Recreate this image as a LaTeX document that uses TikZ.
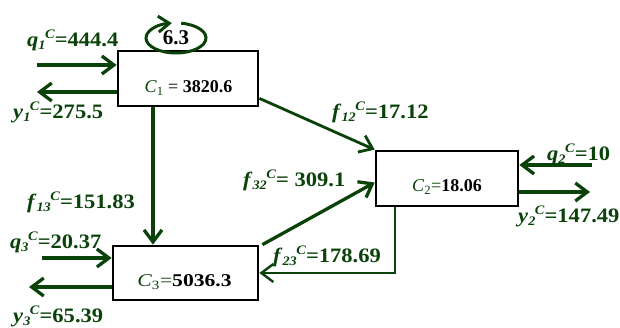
\documentclass[tikz,border=0pt]{standalone}
\usepackage{fontspec}
\setmainfont{Liberation Serif}
\newfontfamily\lblfont[FakeStretch=1.1]{Liberation Serif}
\newfontfamily\wideserif[FakeStretch=1.2]{Liberation Serif}
\usetikzlibrary{arrows.meta,calc}
\definecolor{dg}{RGB}{10,66,10}
\newcommand{\lbl}[3]{\textit{#1}\raisebox{-0.35ex}{\fontsize{13}{13}\selectfont\textit{#2}}\kern-0.5pt\raisebox{0.75ex}{\fontsize{13}{13}\selectfont\textit{C}}=#3}
\begin{document}
\begin{tikzpicture}[x=1pt,y=-1pt,
  box/.style={draw=black,line width=2.7pt,inner sep=0pt},
  boxtxt/.style={font=\fontsize{18}{20}\selectfont,inner sep=0pt},
  arr/.style={draw=dg,line width=3.3pt,-{Straight Barb[length=12pt,width=18pt]}},
  lab/.style={font=\lblfont\bfseries\fontsize{20.5}{22}\selectfont,text=dg,anchor=base west,inner sep=0pt}]
\useasboundingbox (0,0) rectangle (620,327);
% boxes
\node[box,minimum width=140pt,minimum height=55pt] (c1) at (188,78.5) {};
\node[box,minimum width=142pt,minimum height=55pt] (c2) at (447,178.5) {};
\node[box,minimum width=145pt,minimum height=54pt] (c3) at (185.5,273) {};
\node[boxtxt] (c1t) at (188.5,88) {\textcolor{dg}{\textit{C}\textsubscript{1}} = \textbf{3820.6}};
\node[boxtxt] (c2t) at (447,187) {\textcolor{dg}{\textit{C}\textsubscript{2}=}\textbf{18.06}};
\node[boxtxt,font=\wideserif\fontsize{18}{20}\selectfont] (c3t) at (184.5,282) {\textcolor{dg}{\textit{C}\textsubscript{3}=}\textbf{5036.3}};
% self loop
\node[font=\bfseries\fontsize{21}{22}\selectfont,inner sep=0pt] (l63) at (176,38) {6.3};
\draw[dg,line width=3pt,-{Straight Barb[length=11pt,width=16pt]}] (l63.center) ++(-80:30 and 15) arc[start angle=-80,end angle=262,x radius=30,y radius=15];
% coordinates
\coordinate (q1s) at (37,65);
\coordinate (y1e) at (37,92);
\coordinate (f13x) at (153,0);
\coordinate (q3s) at (42,258);
\coordinate (y3e) at (29,287);
\coordinate (f23x) at (395,0);
\coordinate (q2s) at (592,165);
\coordinate (y2e) at (590,192);
% connectors
\draw[arr] (q1s) -- (q1s -| c1.west);
\draw[arr] (y1e -| c1.west) -- (y1e);
\draw[arr] (c1.south -| f13x) -- (c3.north -| f13x);
\draw[arr] (q3s) -- (q3s -| c3.west);
\draw[arr] (y3e -| c3.west) -- (y3e);
\draw[arr,line width=2.8pt] ($(c1.south east)+(0,-9)$) -- (c2.north west);
\draw[arr] ($(c3.north east)+(3,0)$) -- ($(c2.west)+(0,4)$);
\draw[arr,line width=2.4pt] (c2.south -| f23x) |- (c3.east);
\draw[arr] (q2s) -- (q2s -| c2.east);
\draw[arr] (y2e -| c2.east) -- (y2e);
% labels
\node[lab] (lq1) at (27,46) {\lbl{q}{1}{444.4}};
\node[lab] (ly1) at (13,118) {\lbl{y}{1}{275.5}};
\node[lab] (lf13) at (27,208) {\lbl{f}{13}{151.83}};
\node[lab] (lq3) at (10,248) {\lbl{q}{3}{20.37}};
\node[lab] (ly3) at (13,322) {\lbl{y}{3}{65.39}};
\node[lab] (lf12) at (332,118) {\lbl{f}{12}{17.12}};
\node[lab] (lf32) at (243,186) {\lbl{f}{32}{ 309.1}};
\node[lab] (lf23) at (273,262) {\lbl{f}{23}{178.69}};
\node[lab] (lq2) at (547,160) {\lbl{q}{2}{10}};
\node[lab] (ly2) at (518,222) {\lbl{y}{2}{147.49}};
\end{tikzpicture}
\end{document}
